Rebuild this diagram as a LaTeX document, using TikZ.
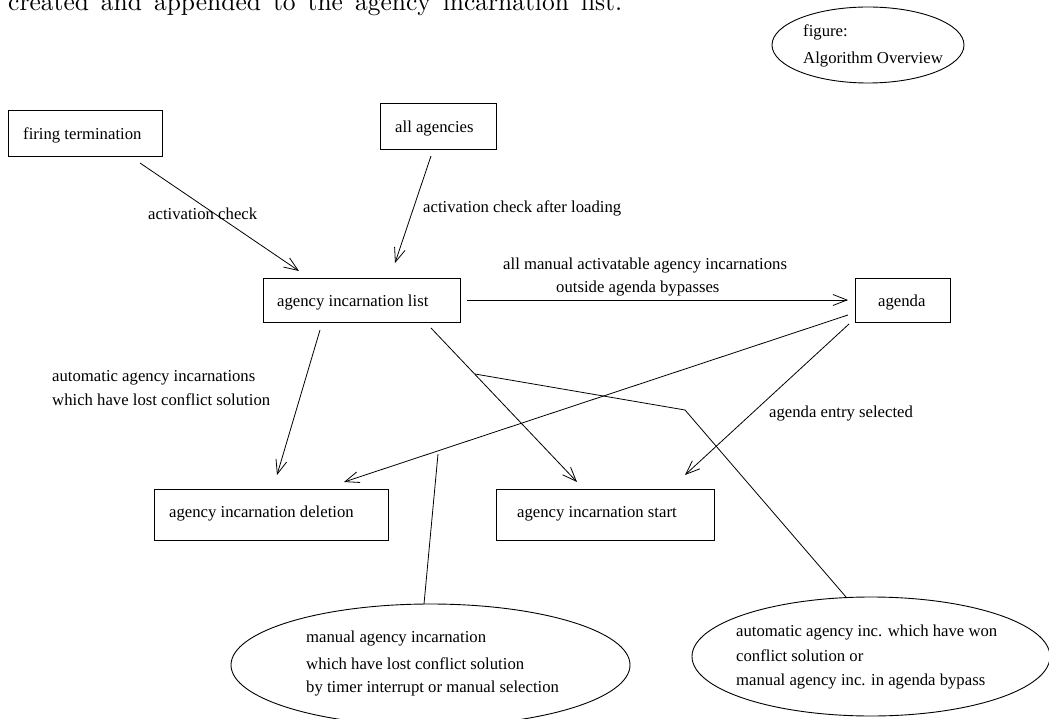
\documentclass[tikz,border=0pt]{standalone}
\usepackage{fontspec}
\setmainfont{Liberation Serif}
\newfontfamily\lmrfont{lmroman10-regular.otf}
\usetikzlibrary{arrows.meta,shapes.geometric}
\begin{document}
\begin{tikzpicture}[x=1pt,y=-1pt,
  box/.style={draw, line width=1pt, inner sep=0pt, anchor=north west},
  oval/.style={draw, ellipse, line width=0.9pt, inner sep=0pt},
  txt/.style={inner sep=0pt, anchor=base west, font=\fontsize{16.7}{20}\selectfont},
  conn/.style={line width=0.8pt},
  arr/.style={conn, -{Straight Barb[length=14pt,width=11pt]}}]
\useasboundingbox (0,0) rectangle (1049,719);
\clip (0,0) rectangle (1049,719);

% clipped running text at the top
\node[inner sep=0pt, anchor=base west, font=\lmrfont\fontsize{25.5}{30}\selectfont] (toptext) at (8,11)
  {\makebox[614pt][s]{created and appended to the agency incarnation list.}};

% boxes
\node[box, minimum width=154pt, minimum height=46pt] (firing) at (8,110) {};
\node[box, minimum width=116pt, minimum height=46pt] (agencies) at (380,103) {};
\node[box, minimum width=197pt, minimum height=44pt] (list) at (263,278) {};
\node[box, minimum width=95pt, minimum height=44pt] (agenda) at (855,278) {};
\node[box, minimum width=234pt, minimum height=51pt] (deletion) at (154,489) {};
\node[box, minimum width=218pt, minimum height=51pt] (start) at (496,489) {};

% ellipses
\node[oval, minimum width=192pt, minimum height=76pt] (figell) at (868,45) {};
\node[oval, minimum width=399pt, minimum height=122pt] (leftell) at (430.5,665) {};
\node[oval, minimum width=358pt, minimum height=119pt] (rightell) at (871,656.5) {};

% box texts
\node[txt] (t-firing) at (23,140) {firing termination};
\node[txt] (t-agencies) at (395,133) {all agencies};
\node[txt] (t-list) at (277,306) {agency incarnation list};
\node[txt] (t-agenda) at (878,306) {agenda};
\node[txt] (t-deletion) at (169,517) {agency incarnation deletion};
\node[txt] (t-start) at (517,517) {agency incarnation start};

% ellipse texts
\node[txt] (t-fig1) at (803,37) {figure:};
\node[txt] (t-fig2) at (803,64) {Algorithm Overview};
\node[txt] (t-l1) at (306,642) {manual agency incarnation};
\node[txt] (t-l2) at (306,669) {which have lost conflict solution};
\node[txt] (t-l3) at (306,692) {by timer interrupt or manual selection};
\node[txt] (t-r1) at (736,636) {automatic agency inc. which have won};
\node[txt] (t-r2) at (736,661) {conflict solution or};
\node[txt] (t-r3) at (736,685) {manual agency inc. in agenda bypass};

% connector labels
\node[txt] (lab-ac) at (148,220) {activation check};
\node[txt] (lab-acl) at (423,213) {activation check after loading};
\node[txt] (lab-man1) at (503,270) {all manual activatable agency incarnations};
\node[txt] (lab-man2) at (556,292) {outside agenda bypasses};
\node[txt] (lab-auto1) at (52,381) {automatic agency incarnations};
\node[txt] (lab-auto2) at (52,405) {which have lost conflict solution};
\node[txt] (lab-sel) at (769,417) {agenda entry selected};

% connector end points
\coordinate (firing-out) at (140,163);
\coordinate (list-in1) at (299,271);
\coordinate (agencies-out) at (431,156);
\coordinate (list-in2) at (395,263);
\coordinate (list-out-r) at (467,300);
\coordinate (agenda-in) at (848,300);
\coordinate (list-out-d) at (320,330);
\coordinate (deletion-in1) at (277,475);
\coordinate (list-out-s) at (431,328);
\coordinate (start-in1) at (577,482);
\coordinate (agenda-out-d) at (848,315);
\coordinate (deletion-in2) at (344,482);
\coordinate (agenda-out-s) at (849,324);
\coordinate (start-in2) at (685,475);
\coordinate (won-a) at (475,374);
\coordinate (won-b) at (685,410);
\coordinate (won-end) at (846,597);
\coordinate (lost-a) at (438,454);
\coordinate (lost-end) at (424,604);

% connectors
\draw[arr] (firing-out) -- (list-in1);
\draw[arr] (agencies-out) -- (list-in2);
\draw[arr] (list-out-r) -- (agenda-in);
\draw[arr] (list-out-d) -- (deletion-in1);
\draw[arr] (list-out-s) -- (start-in1);
\draw[arr] (agenda-out-d) -- (deletion-in2);
\draw[arr] (agenda-out-s) -- (start-in2);
\draw[conn] (won-a) -- (won-b) -- (won-end);
\draw[conn] (lost-a) -- (lost-end);
\end{tikzpicture}
\end{document}
